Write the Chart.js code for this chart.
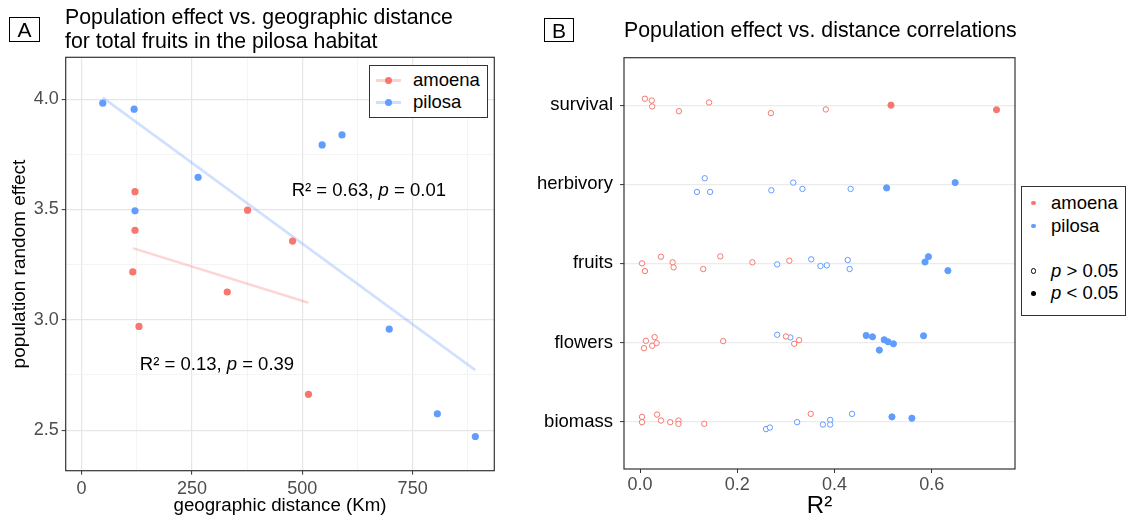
<!DOCTYPE html>
<html><head><meta charset="utf-8">
<script src="https://cdn.jsdelivr.net/npm/chart.js@4.4.1/dist/chart.umd.min.js"></script>
<style>
html,body{margin:0;padding:0;background:#fff;}
#wrap{position:relative;width:1128px;height:521px;overflow:hidden;font-family:"Liberation Sans",Arial,Helvetica,sans-serif;color:#000;}
canvas{position:absolute;top:0;}
#cA{left:0;} #cB{left:520px;}
.abs{position:absolute;white-space:nowrap;}
.tag{position:absolute;box-sizing:border-box;border:1px solid #000;font-size:21px;text-align:center;}
.title{font-size:21.3px;line-height:23.5px;}
.leg{position:absolute;box-sizing:border-box;background:#fff;border:1.2px solid #333;}
.lt{position:absolute;font-size:18.5px;line-height:22px;white-space:nowrap;}
.dot{position:absolute;border-radius:50%;box-sizing:border-box;}
.anno{position:absolute;font-size:18.5px;line-height:22px;white-space:nowrap;}
</style></head>
<body><div id="wrap">
<canvas id="cA" width="520" height="521"></canvas>
<canvas id="cB" width="608" height="521"></canvas>

<div class="tag" style="left:9px;top:17px;width:31px;height:25px;line-height:24px;">A</div>
<div class="abs title" style="left:65px;top:6px;">Population effect vs. geographic distance<br>for total fruits in the pilosa habitat</div>
<div class="tag" style="left:544px;top:18px;width:30px;height:24px;line-height:23px;">B</div>
<div class="abs title" style="left:624px;top:18.5px;">Population effect vs. distance correlations</div>

<div id="anno0" class="anno"></div>
<div id="anno1" class="anno"></div>

<!-- legend A -->
<div class="leg" style="left:369px;top:65px;width:119px;height:53px;"></div>
<div class="abs" style="left:376px;top:79px;width:25px;height:2.6px;background:rgba(248,118,109,0.32);"></div>
<div class="dot" style="left:385px;top:76.8px;width:7px;height:7px;background:#F8766D;"></div>
<div class="lt" style="left:413px;top:69px;">amoena</div>
<div class="abs" style="left:376px;top:101px;width:25px;height:2.6px;background:rgba(97,156,255,0.32);"></div>
<div class="dot" style="left:385px;top:98.8px;width:7px;height:7px;background:#619CFF;"></div>
<div class="lt" style="left:413px;top:91px;">pilosa</div>

<!-- legend B -->
<div class="leg" style="left:1021px;top:186px;width:105px;height:130px;"></div>
<div class="dot" style="left:1031px;top:200.7px;width:4.5px;height:4.5px;background:#F8766D;"></div>
<div class="lt" style="left:1051px;top:191.7px;">amoena</div>
<div class="dot" style="left:1031px;top:223.7px;width:4.5px;height:4.5px;background:#619CFF;"></div>
<div class="lt" style="left:1051px;top:214.7px;">pilosa</div>
<div class="dot" style="left:1030.5px;top:268.2px;width:5.5px;height:5.5px;border:1px solid #000;background:#fff;"></div>
<div class="lt" style="left:1051px;top:259.7px;"><i>p</i> &gt; 0.05</div>
<div class="dot" style="left:1030.5px;top:290.8px;width:5.5px;height:5.5px;background:#000;"></div>
<div class="lt" style="left:1051px;top:282.3px;"><i>p</i> &lt; 0.05</div>
</div>

<script>
// ---------- Panel A data ----------
const amoenaDist   = [121, 121, 376, 478, 116, 330, 130, 514];
const amoenaEffect = [3.581, 3.406, 3.497, 3.357, 3.217, 3.126, 2.970, 2.662];
const pilosaDist   = [48, 119, 545, 590, 264, 121, 697, 806, 892];
const pilosaEffect = [3.982, 3.955, 3.793, 3.838, 3.646, 3.494, 2.958, 2.574, 2.471];
const amoenaFitDist   = [116, 514];
const amoenaFitEffect = [3.325, 3.077];
const pilosaFitDist   = [48, 892];
const pilosaFitEffect = [4.007, 2.772];
const distTicks   = [0, 125, 250, 375, 500, 625, 750, 875];
const effectTicks = [2.5, 2.75, 3.0, 3.25, 3.5, 3.75, 4.0];
const annoR2 = ['0.63', '0.13'];
const annoP  = ['0.01', '0.39'];
const annoDist   = [476, 132];
const annoEffect = [3.59, 2.80];

// ---------- Panel B data ----------
const traits = ['survival', 'herbivory', 'fruits', 'flowers', 'biomass']; // top to bottom
const r2Ticks = [0, 0.2, 0.4, 0.6];

const amoenaTrait = [
  'survival','survival','survival','survival','survival','survival','survival','survival','survival',
  'fruits','fruits','fruits','fruits','fruits','fruits','fruits','fruits','fruits',
  'flowers','flowers','flowers','flowers','flowers','flowers','flowers','flowers','flowers',
  'biomass','biomass','biomass','biomass','biomass','biomass','biomass','biomass','biomass'];
const amoenaR2 = [
  0.010, 0.024, 0.025, 0.080, 0.142, 0.269, 0.382, 0.516, 0.733,
  0.004, 0.010, 0.043, 0.067, 0.069, 0.130, 0.165, 0.231, 0.307,
  0.008, 0.012, 0.025, 0.030, 0.034, 0.171, 0.300, 0.317, 0.327,
  0.004, 0.004, 0.035, 0.043, 0.062, 0.079, 0.079, 0.132, 0.351];
const amoenaJitter = [
  0.081, 0.059, -0.016, -0.076, 0.034, -0.101, -0.054, 0.000, -0.058,
  0.000, -0.097, 0.084, 0.013, -0.051, -0.072, 0.088, 0.013, 0.033,
  -0.072, 0.021, -0.042, 0.067, -0.008, 0.017, 0.076, -0.017, 0.029,
  0.059, -0.008, 0.088, 0.013, -0.008, 0.013, -0.029, -0.029, 0.097];
const amoenaSig = [
  0,0,0,0,0,0,0,1,1,
  0,0,0,0,0,0,0,0,0,
  0,0,0,0,0,0,0,0,0,
  0,0,0,0,0,0,0,0,0];

const pilosaTrait = [
  'herbivory','herbivory','herbivory','herbivory','herbivory','herbivory','herbivory','herbivory','herbivory',
  'fruits','fruits','fruits','fruits','fruits','fruits','fruits','fruits','fruits',
  'flowers','flowers','flowers','flowers','flowers','flowers','flowers','flowers','flowers',
  'biomass','biomass','biomass','biomass','biomass','biomass','biomass','biomass','biomass'];
const pilosaR2 = [
  0.133, 0.117, 0.144, 0.270, 0.315, 0.334, 0.433, 0.507, 0.648,
  0.282, 0.352, 0.371, 0.384, 0.427, 0.431, 0.586, 0.593, 0.633,
  0.282, 0.309, 0.465, 0.478, 0.492, 0.502, 0.510, 0.521, 0.583,
  0.259, 0.267, 0.323, 0.376, 0.391, 0.391, 0.436, 0.518, 0.559];
const pilosaJitter = [
  0.076, -0.097, -0.097, -0.076, 0.021, -0.059, -0.059, -0.046, 0.021,
  -0.013, 0.051, -0.034, -0.025, 0.042, -0.072, 0.017, 0.084, -0.093,
  0.097, 0.063, 0.088, 0.071, -0.097, 0.034, 0.008, -0.017, 0.084,
  -0.096, -0.076, -0.008, -0.038, 0.021, -0.038, 0.097, 0.059, 0.042];
const pilosaSig = [
  0,0,0,0,0,0,0,1,1,
  0,0,0,0,0,0,1,1,1,
  0,0,1,1,1,1,1,1,1,
  0,0,0,0,0,0,0,1,1];

// ---------- styling ----------
const AMOENA = '#F8766D', PILOSA = '#619CFF';
const FONT = '"Liberation Sans", Arial, Helvetica, sans-serif';
const framePlugin = {
  id: 'frame',
  afterDraw(chart) {
    const {ctx, chartArea: a} = chart;
    ctx.save();
    ctx.strokeStyle = '#333';
    ctx.lineWidth = 1.2;
    ctx.strokeRect(a.left, a.top, a.right - a.left, a.bottom - a.top);
    ctx.restore();
  }
};
const isMult = (v, m) => Math.abs(v / m - Math.round(v / m)) < 1e-6;

// ---------- Panel A ----------
const annoPlugin = {
  id: 'annoPos',
  afterRender(chart) {
    annoDist.forEach((d, i) => {
      const el = document.getElementById('anno' + i);
      el.innerHTML = 'R² = ' + annoR2[i] + ', <i>p</i> = ' + annoP[i];
      el.style.left = chart.scales.x.getPixelForValue(d) + 'px';
      el.style.top = (chart.scales.y.getPixelForValue(annoEffect[i]) - 11) + 'px';
    });
  }
};

new Chart(document.getElementById('cA'), {
  type: 'scatter',
  data: {
    datasets: [
      {type: 'line', data: amoenaFitDist.map((x, i) => ({x, y: amoenaFitEffect[i]})),
       borderColor: 'rgba(248,118,109,0.3)', borderWidth: 2.6, pointRadius: 0, order: 3},
      {type: 'line', data: pilosaFitDist.map((x, i) => ({x, y: pilosaFitEffect[i]})),
       borderColor: 'rgba(97,156,255,0.3)', borderWidth: 2.6, pointRadius: 0, order: 3},
      {data: amoenaDist.map((x, i) => ({x, y: amoenaEffect[i]})),
       backgroundColor: AMOENA, borderWidth: 0, pointRadius: 3.6, order: 1},
      {data: pilosaDist.map((x, i) => ({x, y: pilosaEffect[i]})),
       backgroundColor: PILOSA, borderWidth: 0, pointRadius: 3.6, order: 1}
    ]
  },
  options: {
    responsive: false, animation: false, events: [],
    layout: {padding: {left: 0, right: 25.7, top: 57.3, bottom: 0}},
    plugins: {legend: {display: false}, tooltip: {enabled: false}},
    scales: {
      x: {
        type: 'linear', min: -36, max: 935,
        afterBuildTicks: s => { s.ticks = distTicks.map(v => ({value: v})); },
        afterFit: s => { s.height = 50.3; },
        border: {display: false},
        grid: {
          color: c => (c.tick && isMult(c.tick.value, 250)) ? '#e6e6e6' : '#f1f1f1',
          lineWidth: c => (c.tick && isMult(c.tick.value, 250)) ? 1.2 : 0.8,
          tickColor: c => (c.tick && isMult(c.tick.value, 250)) ? '#333' : 'rgba(0,0,0,0)',
          tickLength: 4, tickWidth: 1
        },
        ticks: {autoSkip: false, maxRotation: 0, padding: 3.5, color: '#4d4d4d',
                font: {size: 18, family: FONT},
                callback: v => isMult(v, 250) ? String(v) : ''},
        title: {display: true, text: 'geographic distance (Km)', color: '#000',
                font: {size: 18.7, family: FONT}, padding: {top: 0, bottom: 3.5}}
      },
      y: {
        type: 'linear', min: 2.316, max: 4.19,
        afterBuildTicks: s => { s.ticks = effectTicks.map(v => ({value: v})); },
        afterFit: s => { s.width = 65.7; },
        border: {display: false},
        grid: {
          color: c => (c.tick && isMult(c.tick.value, 0.5)) ? '#e6e6e6' : '#f1f1f1',
          lineWidth: c => (c.tick && isMult(c.tick.value, 0.5)) ? 1.2 : 0.8,
          tickColor: c => (c.tick && isMult(c.tick.value, 0.5)) ? '#333' : 'rgba(0,0,0,0)',
          tickLength: 4, tickWidth: 1
        },
        ticks: {autoSkip: false, padding: 3, color: '#4d4d4d',
                font: {size: 18, family: FONT},
                callback: v => isMult(v, 0.5) ? v.toFixed(1) : ''},
        title: {display: true, text: 'population random effect', color: '#000',
                font: {size: 19, family: FONT}, padding: {top: 8, bottom: 0}}
      }
    }
  },
  plugins: [framePlugin, annoPlugin]
});

// ---------- Panel B ----------
const traitY = t => traits.length - traits.indexOf(t);
function bPoints(trait, r2, jit) {
  return r2.map((v, i) => ({x: v, y: traitY(trait[i]) + jit[i]}));
}
new Chart(document.getElementById('cB'), {
  type: 'scatter',
  data: {
    datasets: [
      {data: bPoints(amoenaTrait, amoenaR2, amoenaJitter),
       borderColor: AMOENA, borderWidth: 1,
       backgroundColor: amoenaSig.map(s => s ? AMOENA : '#ffffff'),
       pointRadius: amoenaSig.map(s => s ? 3.1 : 2.7)},
      {data: bPoints(pilosaTrait, pilosaR2, pilosaJitter),
       borderColor: PILOSA, borderWidth: 1,
       backgroundColor: pilosaSig.map(s => s ? PILOSA : '#ffffff'),
       pointRadius: pilosaSig.map(s => s ? 3.1 : 2.7)}
    ]
  },
  options: {
    responsive: false, animation: false, events: [],
    layout: {padding: {left: 0, right: 113, top: 57.7, bottom: 0}},
    plugins: {legend: {display: false}, tooltip: {enabled: false}},
    scales: {
      x: {
        type: 'linear', min: -0.033, max: 0.771,
        afterBuildTicks: s => { s.ticks = r2Ticks.map(v => ({value: v})); },
        afterFit: s => { s.height = 52; },
        border: {display: false},
        grid: {color: 'rgba(0,0,0,0)', tickColor: '#333', tickLength: 4, tickWidth: 1},
        ticks: {autoSkip: false, maxRotation: 0, padding: 1, color: '#4d4d4d',
                font: {size: 18, family: FONT}, callback: v => v.toFixed(1)},
        title: {display: true, text: 'R²', color: '#000',
                font: {size: 24, family: FONT}, padding: {top: 0, bottom: 0}}
      },
      y: {
        type: 'linear', min: 0.4, max: 5.6,
        afterBuildTicks: s => { s.ticks = traits.map(t => ({value: traitY(t)})); },
        afterFit: s => { s.width = 104; },
        border: {display: false},
        grid: {color: '#ebebeb', lineWidth: 1.2, tickColor: '#333', tickLength: 4, tickWidth: 1},
        ticks: {autoSkip: false, padding: 7, color: '#000',
                font: {size: 18.5, family: FONT},
                callback: v => traits[traits.length - Math.round(v)]}
      }
    }
  },
  plugins: [framePlugin]
});
</script>
</body></html>
